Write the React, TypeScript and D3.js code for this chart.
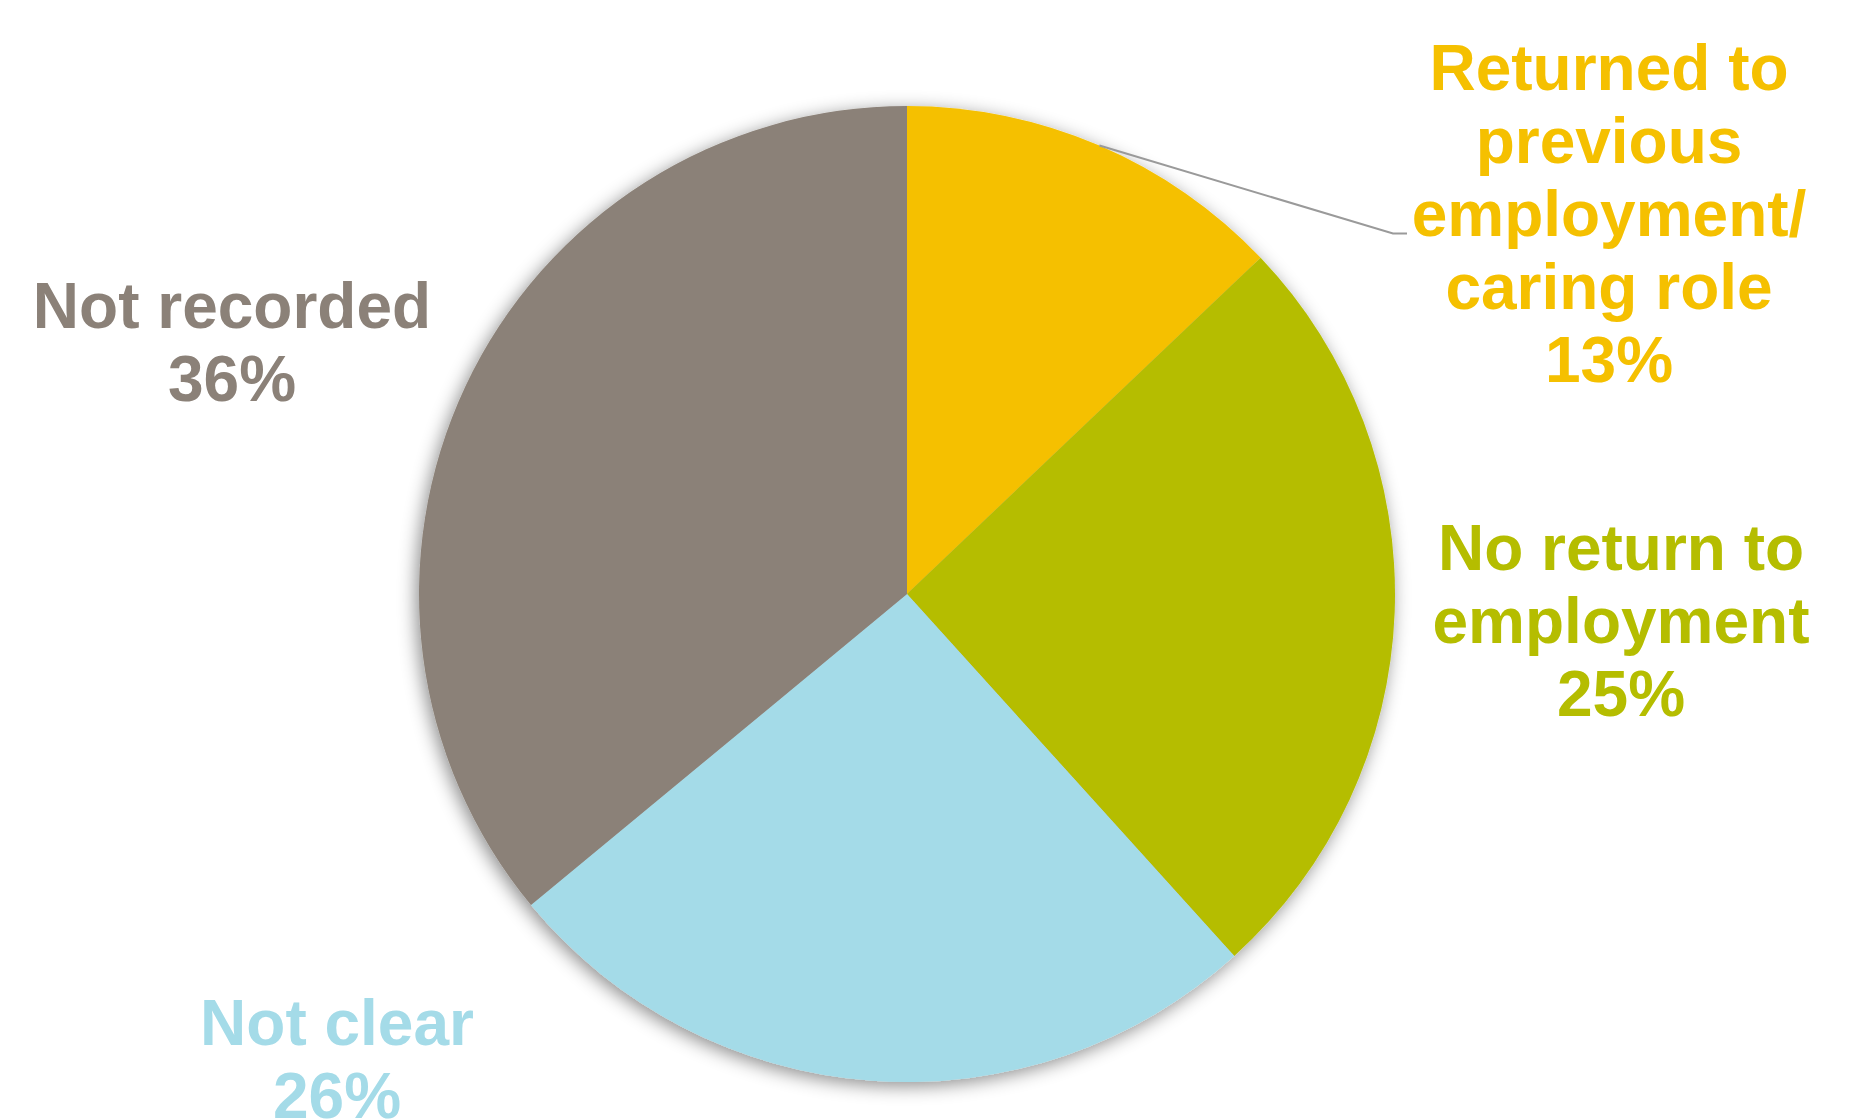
import React from "react";
import * as d3 from "d3";

const categories = [
  "Returned to previous employment/ caring role",
  "No return to employment",
  "Not clear",
  "Not recorded",
];
const values = [12.9, 25.4, 25.7, 36.0];
const labelLines = [
  ["Returned to", "previous", "employment/", "caring role"],
  ["No return to", "employment"],
  ["Not clear"],
  ["Not recorded"],
];
const colors = ["#F5C000", "#B5BD00", "#A4DBE8", "#8B8178"];

const W = 1859;
const H = 1120;
const cx = 907;
const cy = 594;
const R = 488;
const fontSize = 64;
const lineH = 73;

// label anchors (center x, first baseline y)
const labelPos = [
  { x: 1609, y: 90 },
  { x: 1621, y: 570 },
  { x: 337, y: 1045 },
  { x: 232, y: 328 },
];

export default function App() {
  const pie = d3
    .pie<number>()
    .sort(null)
    .value((d) => d);
  const arcs = pie(values);
  const arc = d3.arc<d3.PieArcDatum<number>>().innerRadius(0).outerRadius(R);
  const edgeArc = d3.arc<d3.PieArcDatum<number>>().innerRadius(R).outerRadius(R);

  const a0 = arcs[0];
  const [ex, ey] = edgeArc.centroid(a0);
  const leader = [
    [cx + ex, cy + ey],
    [1393, 233.5],
    [1407, 233.5],
  ];

  return (
    <div style={{ position: "absolute", left: 0, top: 0 }}>
      <svg width={W} height={H} style={{ display: "block", background: "#fff" }}>
        <defs>
          <filter id="sh" x="-20%" y="-20%" width="140%" height="140%">
            <feDropShadow dx="-3" dy="4" stdDeviation="9" floodColor="#000" floodOpacity="0.45" />
          </filter>
        </defs>
        <g transform={`translate(${cx},${cy})`} filter="url(#sh)">
          {arcs.map((a, i) => (
            <path key={categories[i]} d={arc(a) || ""} fill={colors[i]} />
          ))}
        </g>
        <polyline
          points={leader.map((p) => p.join(",")).join(" ")}
          fill="none"
          stroke="#9a9a9a"
          strokeWidth={2}
        />
        {labelLines.map((lines, i) => {
          const all = [...lines, `${Math.round(values[i])}%`];
          return (
            <text
              key={categories[i]}
              x={labelPos[i].x}
              y={labelPos[i].y}
              fill={colors[i]}
              fontFamily="'Liberation Sans', Arial, sans-serif"
              fontWeight="bold"
              fontSize={fontSize}
              textAnchor="middle"
            >
              {all.map((t, j) => (
                <tspan key={j} x={labelPos[i].x} y={labelPos[i].y + j * lineH}>
                  {t}
                </tspan>
              ))}
            </text>
          );
        })}
      </svg>
    </div>
  );
}
